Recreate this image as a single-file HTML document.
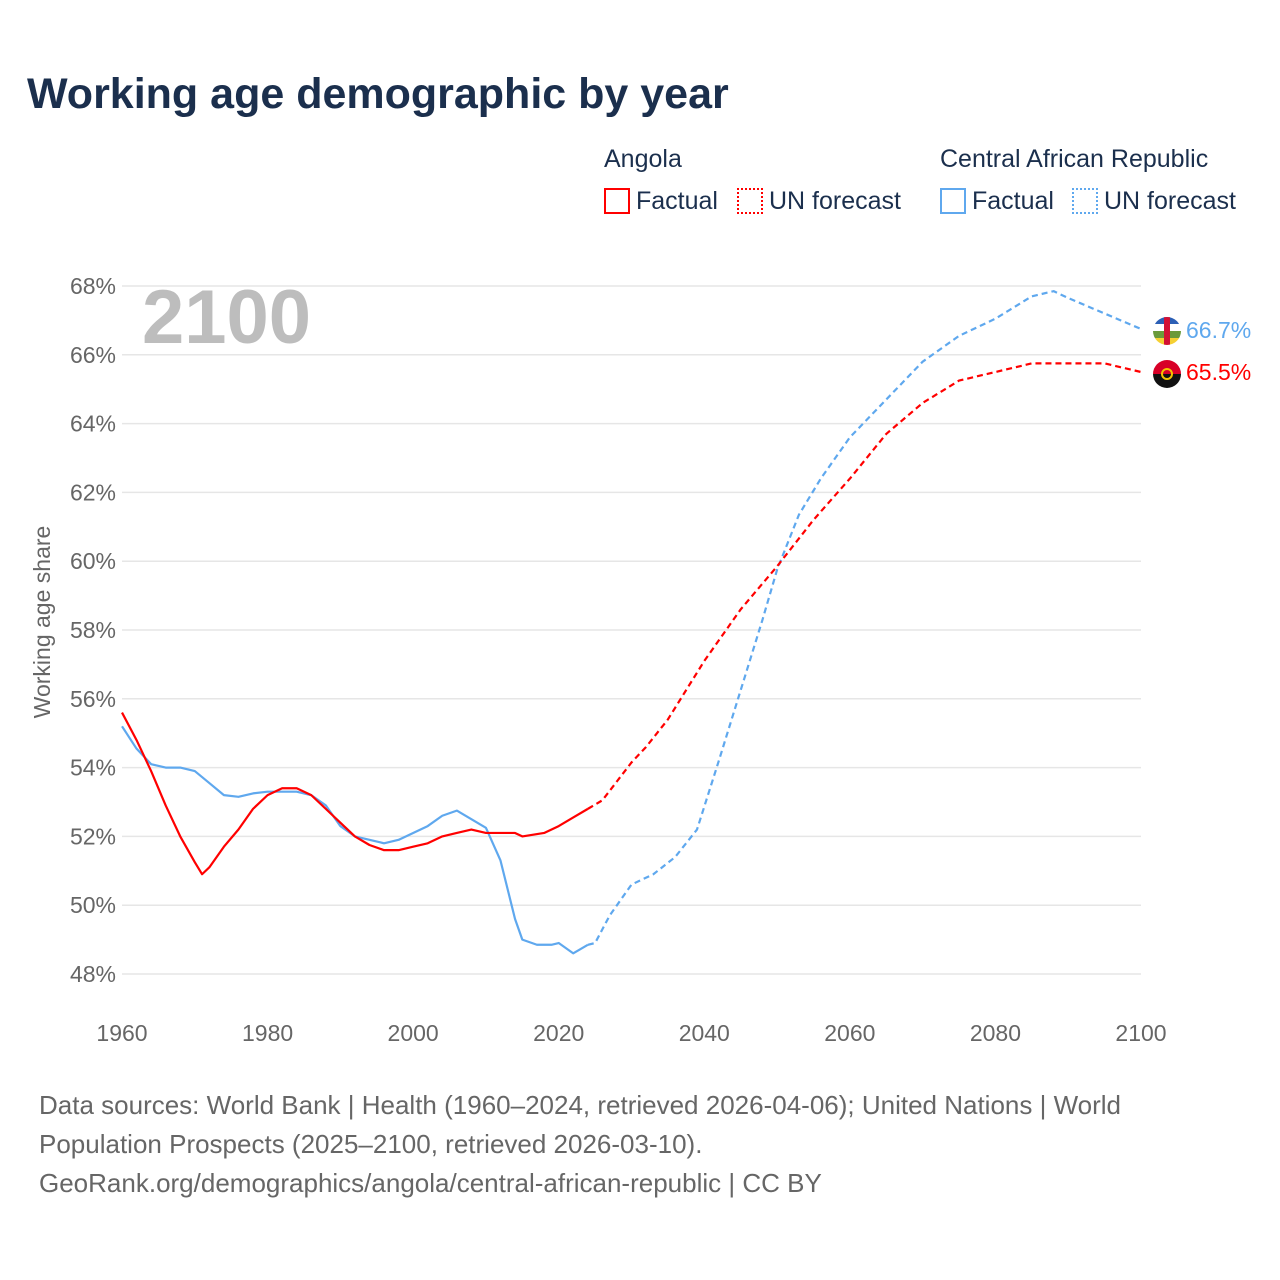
<!DOCTYPE html>
<html><head><meta charset="utf-8"><style>
body{margin:0;background:#fff;font-family:"Liberation Sans",sans-serif;}
#root{position:relative;width:1280px;height:1280px;overflow:hidden;}
.t{position:absolute;white-space:nowrap;}
</style></head><body>
<div id="root">
<div class="t" style="left:27px;top:70px;font-size:43px;font-weight:bold;color:#1b2f4d;">Working age demographic by year</div>
<div class="t" style="left:604px;top:145px;font-size:25px;color:#1b2f4d;">Angola</div>
<div class="t" style="left:940px;top:145px;font-size:25px;color:#1b2f4d;">Central African Republic</div>
<div class="t" style="left:604px;top:187px;font-size:25px;color:#1b2f4d;"><span style="display:inline-block;width:26px;height:26px;border:2px solid #f00;vertical-align:-5px;margin-right:6px;box-sizing:border-box"></span>Factual</div>
<div class="t" style="left:737px;top:187px;font-size:25px;color:#1b2f4d;"><span style="display:inline-block;width:26px;height:26px;border:2px dotted #f00;vertical-align:-5px;margin-right:6px;box-sizing:border-box"></span>UN forecast</div>
<div class="t" style="left:940px;top:187px;font-size:25px;color:#1b2f4d;"><span style="display:inline-block;width:26px;height:26px;border:2px solid #5fa8ee;vertical-align:-5px;margin-right:6px;box-sizing:border-box"></span>Factual</div>
<div class="t" style="left:1072px;top:187px;font-size:25px;color:#1b2f4d;"><span style="display:inline-block;width:26px;height:26px;border:2px dotted #5fa8ee;vertical-align:-5px;margin-right:6px;box-sizing:border-box"></span>UN forecast</div>
<svg id="chart" width="1280" height="1280" style="position:absolute;left:0;top:0"></svg>
<div class="t" style="left:39px;top:1086px;font-size:26px;line-height:39px;color:#666;">Data sources: World Bank | Health (1960–2024, retrieved 2026-04-06); United Nations | World<br>Population Prospects (2025–2100, retrieved 2026-03-10).<br>GeoRank.org/demographics/angola/central-african-republic | CC BY</div>
</div>
<script>
const yTicks=[48,50,52,54,56,58,60,62,64,66,68];
const xTicks=[1960,1980,2000,2020,2040,2060,2080,2100];
const angYearsF=[1960,1962,1964,1966,1968,1970,1971,1972,1974,1976,1978,1980,1982,1984,1986,1988,1990,1992,1994,1996,1998,2000,2002,2004,2006,2008,2010,2012,2014,2015,2018,2020,2022,2024];
const angValsF=[55.6,54.8,53.9,52.9,52.0,51.25,50.9,51.1,51.7,52.2,52.8,53.2,53.4,53.4,53.2,52.8,52.4,52.0,51.75,51.6,51.6,51.7,51.8,52.0,52.1,52.2,52.1,52.1,52.1,52.0,52.1,52.3,52.55,52.8];
const angYearsP=[2024,2026,2028,2030,2032,2035,2040,2045,2050,2055,2060,2065,2070,2075,2080,2085,2090,2095,2100];
const angValsP=[52.8,53.05,53.6,54.15,54.6,55.4,57.1,58.6,59.85,61.2,62.4,63.7,64.6,65.25,65.5,65.75,65.75,65.75,65.5];
const carYearsF=[1960,1962,1964,1966,1968,1970,1972,1974,1976,1978,1980,1982,1984,1986,1988,1990,1992,1994,1996,1998,2000,2002,2004,2006,2008,2010,2012,2014,2015,2017,2019,2020,2022,2024];
const carValsF=[55.2,54.55,54.1,54.0,54.0,53.9,53.55,53.2,53.15,53.25,53.3,53.3,53.3,53.2,52.9,52.3,52.0,51.9,51.8,51.9,52.1,52.3,52.6,52.75,52.5,52.25,51.3,49.6,49.0,48.85,48.85,48.9,48.6,48.85];
const carYearsP=[2024,2025,2027,2030,2033,2036,2039,2042,2045,2048,2050,2053,2056,2060,2065,2070,2075,2080,2085,2088,2090,2095,2100];
const carValsP=[48.85,48.9,49.7,50.6,50.9,51.4,52.2,54.2,56.25,58.3,59.75,61.35,62.4,63.6,64.7,65.8,66.55,67.05,67.7,67.85,67.65,67.2,66.75];
const NS='http://www.w3.org/2000/svg';
const svg=document.getElementById('chart');
const X=y=>122+(y-1960)*(1141-122)/140;
const Y=v=>286+(68-v)*34.4;
function mk(t,a){const e=document.createElementNS(NS,t);for(const k in a)e.setAttribute(k,a[k]);svg.appendChild(e);return e;}
yTicks.forEach(v=>{
 const g=mk('line',{x1:122,x2:1141,y1:Y(v),y2:Y(v),stroke:'#e6e6e6','stroke-width':1.5});
 
 
 const t=mk('text',{x:116,y:Y(v)+8,'text-anchor':'end','font-size':23,fill:'#666','font-family':'Liberation Sans'});
 t.textContent=v+'%';
 
 
});
xTicks.forEach(y=>{
 const t=mk('text',{x:X(y),y:1041,'text-anchor':'middle','font-size':23,fill:'#666','font-family':'Liberation Sans'});
 t.textContent=y;
 
 
});
const yt=mk('text',{x:0,y:0,transform:'translate(50,622) rotate(-90)','text-anchor':'middle','font-size':23,fill:'#666','font-family':'Liberation Sans'});
yt.textContent='Working age share';


const yr=mk('text',{x:142,y:343,'font-size':76,'font-weight':'bold',fill:'#bdbdbd','font-family':'Liberation Sans'});
yr.textContent='2100';


function line(xs,vs,col,dash,name){
 const p=mk('polyline',{points:xs.map((x,i)=>X(x)+','+Y(vs[i])).join(' '),fill:'none',stroke:col,'stroke-width':2.2,'stroke-linejoin':'round','stroke-dasharray':dash?'6,4':'none'});
 
 
}
line(carYearsF,carValsF,'#5fa8ee',false,'car-factual-line');
line(carYearsP,carValsP,'#5fa8ee',true,'car-forecast-line');
line(angYearsF,angValsF,'#ff0000',false,'angola-factual-line');
line(angYearsP,angValsP,'#ff0000',true,'angola-forecast-line');
const cy=Y(carValsP[carValsP.length-1]), ay=Y(angValsP[angValsP.length-1]);
const defs=mk('defs',{});
defs.innerHTML='<clipPath id="cc"><circle cx="1167" cy="'+(cy+2)+'" r="14"/></clipPath><clipPath id="ac"><circle cx="1167" cy="'+(ay+2)+'" r="14"/></clipPath>';
const gc=mk('g',{'clip-path':'url(#cc)'});


gc.innerHTML='<rect x="1153" y="'+(cy-12)+'" width="28" height="7" fill="#2c5fb5"/><rect x="1153" y="'+(cy-5)+'" width="28" height="7" fill="#fff"/><rect x="1153" y="'+(cy+2)+'" width="28" height="7" fill="#6a9a3a"/><rect x="1153" y="'+(cy+9)+'" width="28" height="7" fill="#f5d033"/><rect x="1164" y="'+(cy-12)+'" width="6" height="28" fill="#d21034"/>';
const ga=mk('g',{'clip-path':'url(#ac)'});


ga.innerHTML='<rect x="1153" y="'+(ay-12)+'" width="28" height="14" fill="#d80027"/><rect x="1153" y="'+(ay+2)+'" width="28" height="14" fill="#111"/><circle cx="1167" cy="'+(ay+2)+'" r="5" fill="none" stroke="#f5c400" stroke-width="2"/>';
const lc=mk('text',{x:1186,y:cy+9,'font-size':23,fill:'#5fa8ee','font-family':'Liberation Sans'});
lc.textContent='66.7%';


const la=mk('text',{x:1186,y:ay+8,'font-size':23,fill:'#ff0000','font-family':'Liberation Sans'});
la.textContent='65.5%';


</script>
</body></html>
